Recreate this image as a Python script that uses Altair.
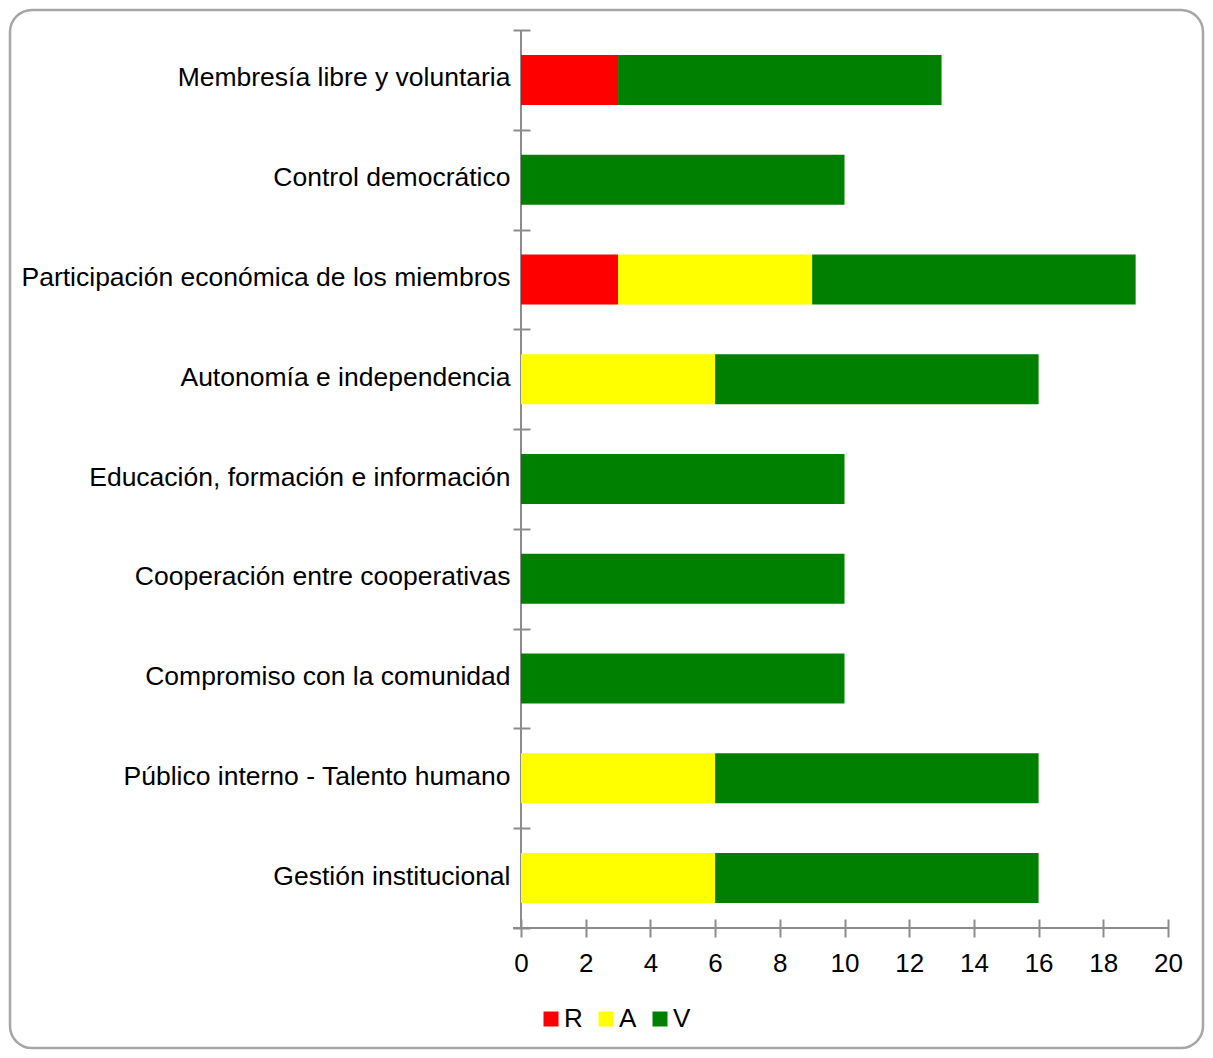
import altair as alt
import pandas as pd

categories = [
    "Membresía libre y voluntaria",
    "Control democrático",
    "Participación económica de los miembros",
    "Autonomía e independencia",
    "Educación, formación e información",
    "Cooperación entre cooperativas",
    "Compromiso con la comunidad",
    "Público interno - Talento humano",
    "Gestión institucional",
]
R = [3, 0, 3, 0, 0, 0, 0, 0, 0]
A = [0, 0, 6, 6, 0, 0, 0, 6, 6]
V = [10, 10, 10, 10, 10, 10, 10, 10, 10]
series = ["R", "A", "V"]
colors = ["#FF0000", "#FFFF00", "#008000"]
x_ticks = list(range(0, 21, 2))

rows = []
for i, c in enumerate(categories):
    for k, (s, vals) in enumerate(zip(series, [R, A, V])):
        if vals[i] > 0:
            rows.append({"cat": c, "serie": s, "valor": vals[i], "orden": k})
df = pd.DataFrame(rows)

W, H = 647, 898
FONT = "Liberation Sans"
AXIS_GREY = "#8c8c8c"

bars = alt.Chart(df).mark_bar(size=50).encode(
    y=alt.Y(
        "cat:N",
        sort=categories,
        title=None,
        scale=alt.Scale(paddingInner=0, paddingOuter=0),
        axis=alt.Axis(
            domain=False,
            offset=-9,
            tickSize=17,
            tickBand="extent",
            tickColor=AXIS_GREY,
            tickWidth=2,
            labelFont=FONT,
            labelFontSize=26.5,
            labelColor="#000000",
            labelPadding=3,
            labelOffset=-2,
            labelLimit=700,
        ),
    ),
    x=alt.X(
        "valor:Q",
        stack="zero",
        title=None,
        scale=alt.Scale(domain=[0, 20], nice=False),
        axis=alt.Axis(
            values=x_ticks,
            domain=False,
            offset=-9,
            tickSize=18,
            tickColor=AXIS_GREY,
            tickWidth=2,
            grid=False,
            labelFlush=False,
            labelOverlap=False,
            labelFont=FONT,
            labelFontSize=26,
            labelColor="#000000",
            labelPadding=13,
        ),
    ),
    color=alt.Color(
        "serie:N",
        scale=alt.Scale(domain=series, range=colors),
        legend=alt.Legend(
            title=None,
            orient="none",
            direction="horizontal",
            legendX=17,
            legendY=976,
            symbolType="square",
            symbolSize=225,
            symbolStrokeWidth=0,
            symbolOpacity=1,
            labelFont=FONT,
            labelFontSize=26,
            labelColor="#000000",
            labelOffset=0,
            columnPadding=10,
        ),
    ),
    order=alt.Order("orden:Q"),
)

frame_df = pd.DataFrame({"k": [0]})
domain_y = alt.Chart(frame_df).mark_rule(color=AXIS_GREY, strokeWidth=2).encode(
    x=alt.value(0), y=alt.value(0), y2=alt.value(H)
)
domain_x = alt.Chart(frame_df).mark_rule(color=AXIS_GREY, strokeWidth=2).encode(
    x=alt.value(-8), x2=alt.value(W), y=alt.value(H)
)
frame = alt.Chart(frame_df).mark_rect(
    fill=None, stroke="#a6a6a6", strokeWidth=2.5, cornerRadius=22
).encode(
    x=alt.value(-511), x2=alt.value(W + 35), y=alt.value(-20), y2=alt.value(1018)
)

chart = alt.layer(frame, domain_y, domain_x, bars).properties(
    width=W,
    height=H,
    autosize=alt.AutoSizeParams(type="none"),
    padding={"left": 513, "top": 22, "right": 37, "bottom": 122},
).configure(background="#ffffff", view=alt.ViewConfig(stroke=None))

chart.save("out.html", embed_options={"renderer": "svg", "actions": False})
